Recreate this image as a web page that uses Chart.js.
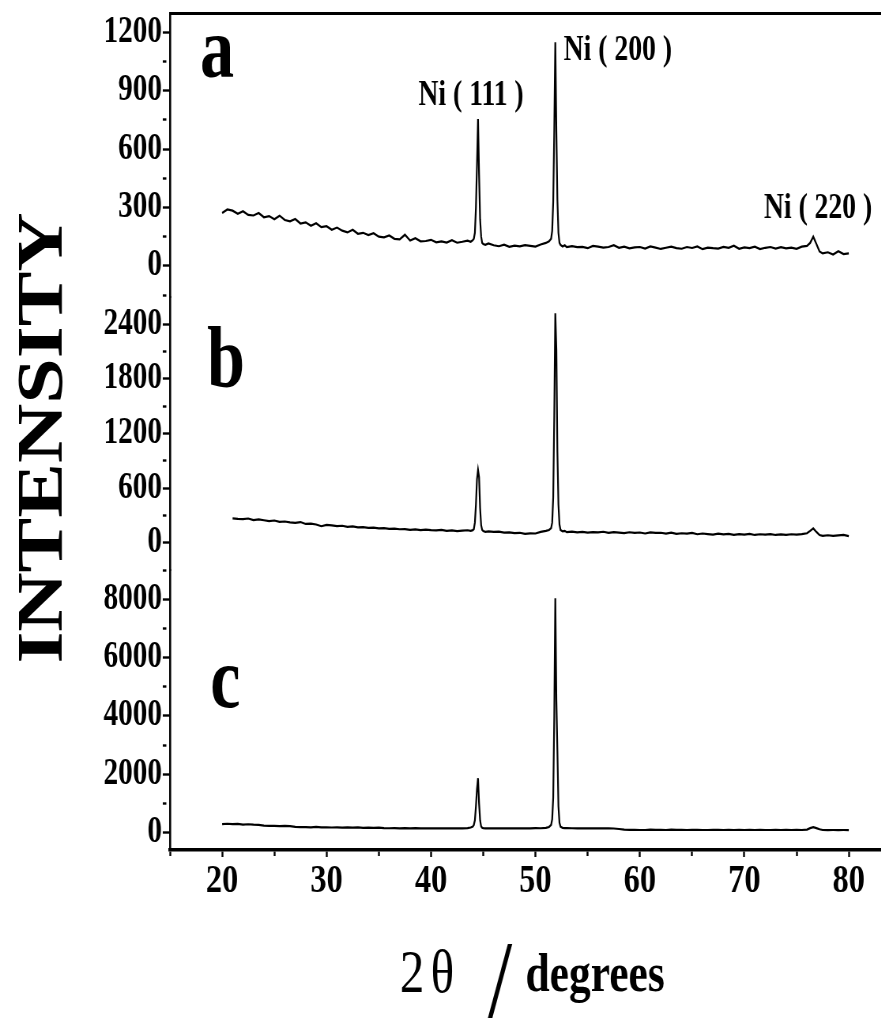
<!DOCTYPE html>
<html>
<head>
<meta charset="utf-8">
<title>XRD patterns of Ni deposits</title>
<script src="https://cdn.jsdelivr.net/npm/chart.js@4.4.1/dist/chart.umd.min.js"></script>
<style>
  html, body { margin: 0; padding: 0; background: #fff; overflow: hidden; }
</style>
</head>
<body>
<!-- the drawing surface is rendered wider than it is shown, which gives the condensed serif look -->
<canvas id="xrd" width="1125" height="1018" style="width:889px;height:1018px"></canvas>
<script>
// 2θ positions (degrees), shared by the three patterns
const twoTheta = [
  20, 20.5, 21, 21.5, 22, 22.5, 23, 23.5, 24, 24.5,
  25, 25.5, 26, 26.5, 27, 27.5, 28, 28.5, 29, 29.5,
  30, 30.5, 31, 31.5, 32, 32.5, 33, 33.5, 34, 34.5,
  35, 35.5, 36, 36.5, 37, 37.5, 38, 38.5, 39, 39.5,
  40, 40.5, 41, 41.5, 42, 42.5, 43, 43.5,
  43.8, 44.0, 44.1, 44.2, 44.3, 44.4, 44.5, 44.6, 44.7, 44.8, 44.9, 45.0, 45.2, 45.5,
  46, 46.5, 47, 47.5, 48, 48.5, 49, 49.5, 50, 50.5, 51,
  51.3, 51.5, 51.6, 51.7, 51.8, 51.9, 52.0, 52.1, 52.2, 52.3, 52.4, 52.6, 52.8, 53.0,
  53.5, 54, 54.5, 55, 55.5, 56, 56.5, 57, 57.5, 58,
  58.5, 59, 59.5, 60, 60.5, 61, 61.5, 62, 62.5, 63,
  63.5, 64, 64.5, 65, 65.5, 66, 66.5, 67, 67.5, 68,
  68.5, 69, 69.5, 70, 70.5, 71, 71.5, 72, 72.5, 73,
  73.5, 74, 74.5, 75, 75.5, 76,
  76.3, 76.6, 76.9, 77.2,
  77.5, 78, 78.5, 79, 79.5, 80
];

// pattern a
const intensityA = [
  272, 290, 284, 268, 281, 262, 259, 272, 250, 256,
  240, 258, 236, 229, 241, 218, 224, 206, 219, 199,
  204, 186, 197, 181, 172, 186, 165, 170, 158, 168,
  150, 147, 156, 139, 136, 160, 130, 142, 126, 128,
  134, 121, 126, 120, 132, 119, 124, 130,
  124, 132, 140, 170, 300, 520, 755, 470, 240, 150, 118, 112, 108, 115,
  106, 101, 109, 98, 104, 100, 107, 103, 99, 110, 118,
  126, 140, 180, 330, 700, 1150, 690, 340, 170, 118, 108, 100, 106, 96,
  101, 96, 98, 91, 103, 99, 94, 97, 106, 93,
  99, 90, 95, 97, 89, 100, 94, 87, 93, 99,
  91, 88, 97, 92, 100, 86, 94, 91, 89, 98,
  93, 104, 88, 95, 91, 99, 86, 93, 97, 89,
  96, 90, 94, 88, 99, 103,
  118, 150, 112, 74,
  64, 70, 58, 75, 61, 64
];

// pattern b (scan starts at 21°)
const intensityB = [
  null, null, 268, 262, 259, 266, 249, 256, 247, 238,
  244, 229, 233, 224, 218, 227, 206, 210, 200, 181,
  196, 190, 183, 186, 175, 179, 168, 172, 163, 166,
  157, 160, 151, 155, 148, 150, 142, 146, 139, 144,
  138, 135, 140, 131, 136, 128, 133, 137,
  130, 138, 150, 220, 420, 700, 800, 720, 380, 190, 140, 128, 120, 124,
  118, 121, 111, 114, 106, 109, 97, 103, 101, 119, 130,
  140, 160, 220, 500, 1400, 2520, 2120, 1000, 420, 200, 140, 124, 130, 116,
  122, 113, 119, 110, 116, 113, 120, 108, 117, 111,
  105, 115, 108, 112, 101, 113, 107, 109, 99, 111,
  97, 104, 99, 107, 93, 101, 95, 89, 99, 91,
  97, 87, 95, 89, 97, 85, 93, 88, 95, 85,
  91, 87, 93, 88, 95, 104,
  130, 158, 118, 84,
  76, 82, 74, 80, 86, 72
];

// pattern c
const intensityC = [
  290, 300, 286, 296, 270, 282, 268, 262, 235, 226,
  230, 222, 226, 218, 190, 182, 186, 176, 190, 178,
  176, 172, 178, 170, 174, 168, 176, 162, 166, 160,
  164, 150, 146, 152, 144, 148, 142, 150, 140, 146,
  140, 144, 140, 146, 140, 142, 144, 152,
  170, 200, 260, 420, 900, 1500, 1860, 1000, 420, 210, 160, 148, 142, 140,
  140, 142, 140, 140, 142, 140, 146, 140, 150, 146, 160,
  190, 260, 450, 1200, 4000, 8030, 4540, 2800, 900, 330, 200, 160, 148, 150,
  146, 142, 144, 140, 142, 140, 142, 140, 138, 120,
  96, 88, 92, 86, 86, 96, 88, 92, 86, 96,
  88, 90, 86, 90, 94, 86, 86, 88, 92, 86,
  88, 86, 94, 86, 88, 86, 90, 86, 86, 94,
  86, 88, 86, 92, 86, 100,
  150, 180, 150, 110,
  86, 84, 86, 84, 86, 84
];

// axis ticks
const xTickMarks = [15, 20, 25, 30, 35, 40, 45, 50, 55, 60, 65, 70, 75, 80];
const xTickLabels = [20, 30, 40, 50, 60, 70, 80];
const yTicksA = [0, 300, 600, 900, 1200];
const yMinorA = [-150, 150, 450, 750, 1050];
const yTicksB = [0, 600, 1200, 1800, 2400];
const yMinorB = [300, 900, 1500, 2100];
const yTicksC = [0, 2000, 4000, 6000, 8000];
const yMinorC = [1000, 3000, 5000, 7000, 9000];

// text
const panelNames = ['a', 'b', 'c'];
const peakNames = ['Ni ( 111 )', 'Ni ( 200 )', 'Ni ( 220 )'];
const yTitle = 'INTENSITY';

const SERIF = "'Liberation Serif', 'Times New Roman', serif";
const AXIS_W = 215;

function panelAxis(min, max, major, minor, weight) {
  const isMajor = v => major.includes(v);
  return {
    type: 'linear',
    position: 'left',
    stack: 'panels',
    stackWeight: weight,
    min: min,
    max: max,
    afterBuildTicks: s => {
      s.ticks = major.concat(minor).sort((p, q) => p - q).map(v => ({ value: v }));
    },
    afterFit: s => { s.width = AXIS_W; s.paddingTop = 0; s.paddingBottom = 0; },
    ticks: {
      autoSkip: false,
      padding: 1,
      color: '#000',
      font: { family: SERIF, size: 37, weight: 'bold' },
      callback: v => (isMajor(v) ? String(v) : '')
    },
    grid: {
      drawOnChartArea: false,
      tickLength: 9,
      tickWidth: 2.4,
      tickColor: '#000',
      tickBorderDash: c => (c.tick && !isMajor(c.tick.value) ? [4.5, 40] : [])
    },
    border: { color: '#000', width: 2.6 }
  };
}

const points = vals => twoTheta
  .map((t, i) => ({ x: t, y: vals[i] }))
  .filter(p => p.y !== null);

const traceStyle = {
  borderColor: '#000',
  borderWidth: 2.2,
  pointRadius: 0,
  tension: 0,
  fill: false,
  xAxisID: 'x'
};

// panel letters, peak labels and axis titles
const annotate = {
  id: 'annotate',
  afterDraw(chart) {
    const { ctx, scales } = chart;
    const x = scales.x;
    ctx.save();
    ctx.fillStyle = '#000';
    ctx.textAlign = 'left';
    ctx.textBaseline = 'alphabetic';

    ctx.font = `bold 86px ${SERIF}`;
    ctx.fillText(panelNames[0], x.getPixelForValue(17.9), scales.ya.getPixelForValue(971));
    ctx.fillText(panelNames[1], x.getPixelForValue(18.56), scales.yb.getPixelForValue(1722));
    ctx.fillText(panelNames[2], x.getPixelForValue(18.85), scales.yc.getPixelForValue(4300));

    ctx.font = `bold 35px ${SERIF}`;
    ctx.fillText(peakNames[0], x.getPixelForValue(38.8), scales.ya.getPixelForValue(827));
    ctx.fillText(peakNames[1], x.getPixelForValue(52.7), scales.ya.getPixelForValue(1058));
    ctx.fillText(peakNames[2], x.getPixelForValue(71.87), scales.ya.getPixelForValue(246));

    // vertical title
    ctx.save();
    ctx.translate(50.6, 438);
    ctx.rotate(-Math.PI / 2);
    ctx.textAlign = 'center';
    ctx.font = `bold 82px ${SERIF}`;
    ctx.fillText(yTitle, 0, 27);
    ctx.restore();

    // horizontal title: 2θ / degrees
    ctx.font = `62px ${SERIF}`;
    ctx.fillText('2', 506, 992);
    ctx.fillText('\u03B8', 545, 992);
    ctx.font = `116px ${SERIF}`;
    ctx.fillText('/', 616, 1021);
    ctx.font = `bold 55px ${SERIF}`;
    ctx.fillText('degrees', 665, 991);
    ctx.restore();
  }
};

new Chart(document.getElementById('xrd'), {
  type: 'line',
  data: {
    datasets: [
      Object.assign({ label: 'a', data: points(intensityA), yAxisID: 'ya' }, traceStyle),
      Object.assign({ label: 'b', data: points(intensityB), yAxisID: 'yb' }, traceStyle),
      Object.assign({ label: 'c', data: points(intensityC), yAxisID: 'yc' }, traceStyle)
    ]
  },
  options: {
    responsive: false,
    devicePixelRatio: 1,
    animation: false,
    events: [],
    layout: { padding: { top: 13, right: 2, left: 0, bottom: 0 } },
    plugins: { legend: { display: false }, tooltip: { enabled: false } },
    scales: {
      x: {
        type: 'linear',
        position: 'bottom',
        min: 15,
        max: 83.7,
        afterBuildTicks: s => { s.ticks = xTickMarks.map(v => ({ value: v })); },
        afterFit: s => { s.height = 168; s.paddingLeft = 0; s.paddingRight = 0; },
        ticks: {
          autoSkip: false,
          maxRotation: 0,
          padding: 0,
          color: '#000',
          font: { family: SERIF, size: 41, weight: 'bold' },
          callback: v => (xTickLabels.includes(v) ? String(v) : '')
        },
        grid: {
          drawOnChartArea: false,
          tickLength: 7,
          tickWidth: 2.4,
          tickColor: '#000',
          tickBorderDash: c => (c.tick && !xTickLabels.includes(c.tick.value) ? [4.5, 40] : [])
        },
        border: { color: '#000', width: 3.5 }
      },
      xTop: {
        type: 'linear',
        position: 'top',
        min: 15,
        max: 83.7,
        ticks: { display: false },
        grid: { display: false },
        afterFit: s => { s.height = 0; },
        border: { display: true, color: '#000', width: 3 }
      },
      yc: panelAxis(-600, 9000, yTicksC, yMinorC, 280),
      yb: panelAxis(-300, 2700, yTicksB, yMinorB, 273),
      ya: panelAxis(-160, 1300, yTicksA, yMinorA, 284)
    }
  },
  plugins: [annotate]
});
</script>
</body>
</html>
